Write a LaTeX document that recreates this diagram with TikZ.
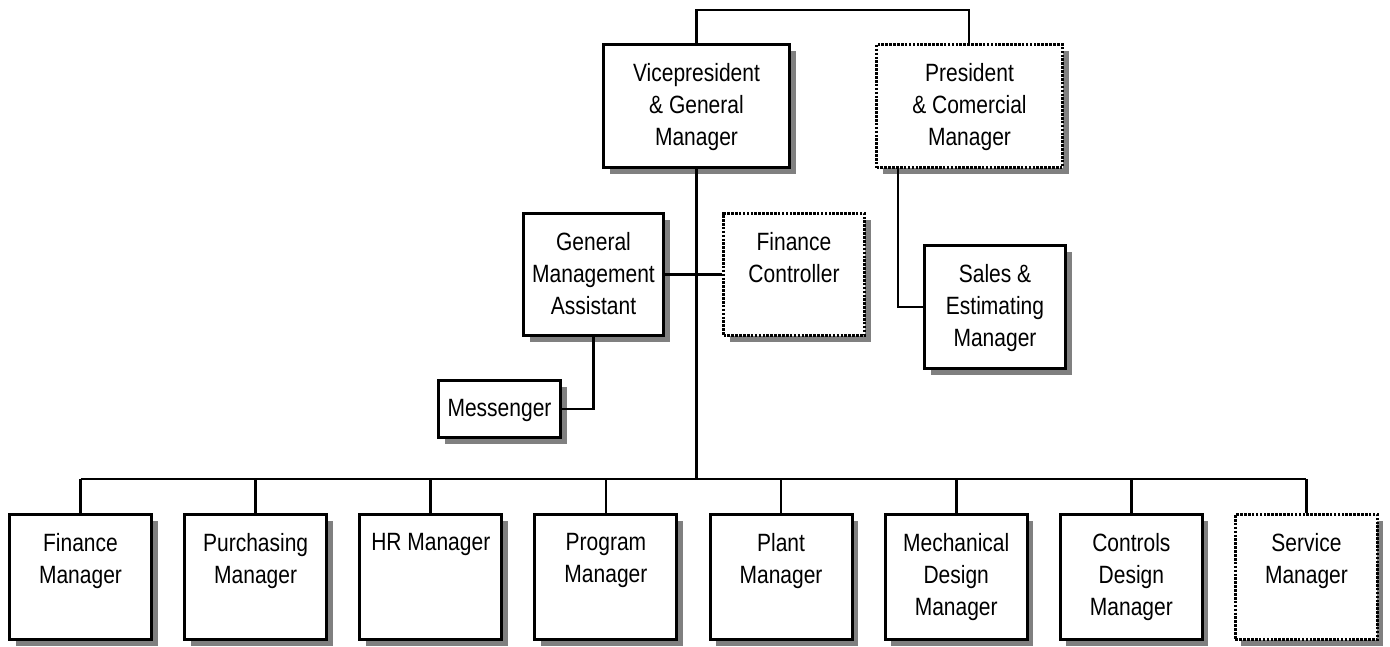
\documentclass[tikz,border=0pt]{standalone}
\usepackage{fontspec}
\setmainfont{Liberation Sans}[FakeStretch=0.84]
\usetikzlibrary{shadows}
\begin{document}
\begin{tikzpicture}[x=1pt,y=-1pt,
  box/.style={draw, line width=3pt, fill=white, inner sep=0pt,
    general shadow={fill=black!50, shadow xshift=6pt, shadow yshift=-6pt}},
  dotbox/.style={box, dash pattern=on 2.6pt off 1.3pt},
  txt/.style={anchor=north, yshift=-20pt, inner sep=0pt, align=center,
    font=\fontsize{25}{32}\selectfont},
  link/.style={line width=2.6pt},
  title/.style={label={[txt]north:#1}}]
\useasboundingbox (0,0) rectangle (1390,646);

% upper level
\node[box, minimum width=186pt, minimum height=123pt,
  title={Vicepresident\\\& General\\Manager}] (vp) at (696.5,106) {};
\node[dotbox, minimum width=186pt, minimum height=123pt,
  title={President\\\& Comercial\\Manager}] (pres) at (969.5,106) {};

% staff positions
\node[box, minimum width=140pt, minimum height=122pt,
  title={General\\Management\\Assistant}] (gma) at (593.5,274.5) {};
\node[dotbox, minimum width=141pt, minimum height=122pt,
  title={Finance\\Controller}] (fc) at (794,274.5) {};
\node[box, minimum width=122pt, minimum height=57pt,
  title={Messenger}] (msg) at (499.5,409) {};
\node[box, minimum width=141pt, minimum height=123pt,
  title={Sales \&\\Estimating\\Manager}] (sales) at (995,307) {};

% department managers
\foreach \i/\t/\s in {1/{Finance\\Manager}/box,
                      2/{Purchasing\\Manager}/box,
                      3/{HR Manager}/box,
                      4/{Program\\Manager}/box,
                      5/{Plant\\Manager}/box,
                      6/{Mechanical\\Design\\Manager}/box,
                      7/{Controls\\Design\\Manager}/box,
                      8/{Service\\Manager}/dotbox}
  \node[\s, minimum width=142pt, minimum height=125pt, title={\t}]
    (m\i) at ({80.5+175.14*(\i-1)},577) {};

% helper coordinates for the connector routes
\coordinate (topline) at (0,10);
\coordinate (bus) at (0,479);
\coordinate (prestop) at (969,0);
\coordinate (presdrop) at (898,0);

% connectors
\draw[link] (vp.north) -- (vp.north |- topline) -| (pres.north -| prestop);
\draw[link] (vp.south) -- (vp.south |- bus);
\draw[link] (m1.north |- bus) -- (m8.north |- bus);
\foreach \i in {1,...,8}
  \draw[link] (m\i.north) -- (m\i.north |- bus);
\draw[link] (gma.east) -- (fc.west);
\draw[link] (gma.south) |- (msg.east);
\draw[link] (pres.south -| presdrop) |- (sales.west);
\end{tikzpicture}
\end{document}
